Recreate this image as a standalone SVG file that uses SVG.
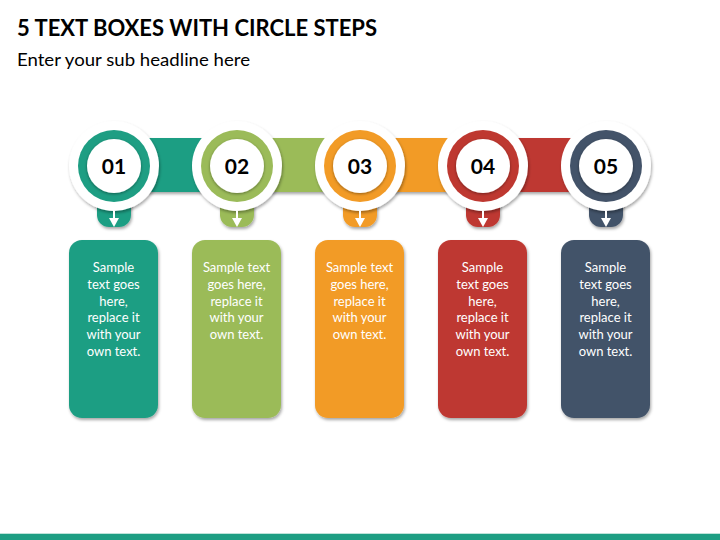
<svg xmlns="http://www.w3.org/2000/svg" width="720" height="540" viewBox="0 0 720 540">
<defs>
<style>
.title{font-family:Lato,"Open Sans","Liberation Sans",sans-serif;font-weight:700;font-size:22px;fill:#000}
.sub{font-family:Lato,"Open Sans","Liberation Sans",sans-serif;font-size:18px;fill:#000}
.num{font-family:Lato,"Open Sans","Liberation Sans",sans-serif;font-weight:700;font-size:21px;fill:#000;text-anchor:middle}
.body{font-family:Lato,"Open Sans","Liberation Sans",sans-serif;font-size:13px;fill:#fff;text-anchor:middle}
.outer{fill:#fff;filter:url(#sh)}
.inner{fill:#fff;filter:url(#ish)}
.box{filter:url(#sh)}
.arrow{fill:#fff;stroke:none}
</style>
<filter id="sh" x="-30%" y="-30%" width="160%" height="160%">
<feDropShadow dx="1" dy="2" stdDeviation="1.6" flood-color="#000" flood-opacity="0.35"/>
</filter>
<filter id="ish" x="-30%" y="-30%" width="160%" height="160%">
<feDropShadow dx="0" dy="1" stdDeviation="1.5" flood-color="#000" flood-opacity="0.4"/>
</filter>
</defs>
<rect width="720" height="540" fill="#fff"/>
<text class="title" x="17" y="36" textLength="360" lengthAdjust="spacingAndGlyphs">5 TEXT BOXES WITH CIRCLE STEPS</text>
<text class="sub" x="17" y="66" textLength="233" lengthAdjust="spacingAndGlyphs">Enter your sub headline here</text>

<g id="connectors">
<rect x="114" y="138" width="125" height="54" fill="#1E9E83" filter="url(#sh)"/>
<rect x="237" y="138" width="125" height="54" fill="#9BBB59" filter="url(#sh)"/>
<rect x="360" y="138" width="125" height="54" fill="#F29B26" filter="url(#sh)"/>
<rect x="483" y="138" width="123" height="54" fill="#BE3830" filter="url(#sh)"/>
</g>

<g id="step1">
<path d="M97 195 H131 V215 A12 12 0 0 1 119 227 H109 A12 12 0 0 1 97 215 Z" fill="#1E9E83" filter="url(#sh)"/>
<circle class="outer" cx="114" cy="166" r="45"/>
<circle cx="114" cy="166" r="36" fill="#1E9E83"/>
<circle class="inner" cx="114" cy="166" r="27"/>
<text class="num" x="114" y="173.5">01</text>
<rect class="arrow" x="113" y="211" width="2" height="9"/>
<polygon class="arrow" points="109,218 119,218 114,227"/>
<rect class="box" x="69" y="240" width="89" height="178" rx="13" fill="#1E9E83"/>
<text class="body" x="113.5" y="272">Sample</text>
<text class="body" x="113.5" y="289">text goes</text>
<text class="body" x="113.5" y="305.5">here,</text>
<text class="body" x="113.5" y="322">replace it</text>
<text class="body" x="113.5" y="339">with your</text>
<text class="body" x="113.5" y="355.5">own text.</text>
</g>

<g id="step2">
<path d="M220 195 H254 V215 A12 12 0 0 1 242 227 H232 A12 12 0 0 1 220 215 Z" fill="#9BBB59" filter="url(#sh)"/>
<circle class="outer" cx="237" cy="166" r="45"/>
<circle cx="237" cy="166" r="36" fill="#9BBB59"/>
<circle class="inner" cx="237" cy="166" r="27"/>
<text class="num" x="237" y="173.5">02</text>
<rect class="arrow" x="236" y="211" width="2" height="9"/>
<polygon class="arrow" points="232,218 242,218 237,227"/>
<rect class="box" x="192" y="240" width="89" height="178" rx="13" fill="#9BBB59"/>
<text class="body" x="236.5" y="272">Sample text</text>
<text class="body" x="236.5" y="289">goes here,</text>
<text class="body" x="236.5" y="305.5">replace it</text>
<text class="body" x="236.5" y="322">with your</text>
<text class="body" x="236.5" y="339">own text.</text>
</g>

<g id="step3">
<path d="M343 195 H377 V215 A12 12 0 0 1 365 227 H355 A12 12 0 0 1 343 215 Z" fill="#F29B26" filter="url(#sh)"/>
<circle class="outer" cx="360" cy="166" r="45"/>
<circle cx="360" cy="166" r="36" fill="#F29B26"/>
<circle class="inner" cx="360" cy="166" r="27"/>
<text class="num" x="360" y="173.5">03</text>
<rect class="arrow" x="359" y="211" width="2" height="9"/>
<polygon class="arrow" points="355,218 365,218 360,227"/>
<rect class="box" x="315" y="240" width="89" height="178" rx="13" fill="#F29B26"/>
<text class="body" x="359.5" y="272">Sample text</text>
<text class="body" x="359.5" y="289">goes here,</text>
<text class="body" x="359.5" y="305.5">replace it</text>
<text class="body" x="359.5" y="322">with your</text>
<text class="body" x="359.5" y="339">own text.</text>
</g>

<g id="step4">
<path d="M466 195 H500 V215 A12 12 0 0 1 488 227 H478 A12 12 0 0 1 466 215 Z" fill="#BE3830" filter="url(#sh)"/>
<circle class="outer" cx="483" cy="166" r="45"/>
<circle cx="483" cy="166" r="36" fill="#BE3830"/>
<circle class="inner" cx="483" cy="166" r="27"/>
<text class="num" x="483" y="173.5">04</text>
<rect class="arrow" x="482" y="211" width="2" height="9"/>
<polygon class="arrow" points="478,218 488,218 483,227"/>
<rect class="box" x="438" y="240" width="89" height="178" rx="13" fill="#BE3830"/>
<text class="body" x="482.5" y="272">Sample</text>
<text class="body" x="482.5" y="289">text goes</text>
<text class="body" x="482.5" y="305.5">here,</text>
<text class="body" x="482.5" y="322">replace it</text>
<text class="body" x="482.5" y="339">with your</text>
<text class="body" x="482.5" y="355.5">own text.</text>
</g>

<g id="step5">
<path d="M589 195 H623 V215 A12 12 0 0 1 611 227 H601 A12 12 0 0 1 589 215 Z" fill="#435369" filter="url(#sh)"/>
<circle class="outer" cx="606" cy="166" r="45"/>
<circle cx="606" cy="166" r="36" fill="#435369"/>
<circle class="inner" cx="606" cy="166" r="27"/>
<text class="num" x="606" y="173.5">05</text>
<rect class="arrow" x="605" y="211" width="2" height="9"/>
<polygon class="arrow" points="601,218 611,218 606,227"/>
<rect class="box" x="561" y="240" width="89" height="178" rx="13" fill="#435369"/>
<text class="body" x="605.5" y="272">Sample</text>
<text class="body" x="605.5" y="289">text goes</text>
<text class="body" x="605.5" y="305.5">here,</text>
<text class="body" x="605.5" y="322">replace it</text>
<text class="body" x="605.5" y="339">with your</text>
<text class="body" x="605.5" y="355.5">own text.</text>
</g>

<rect x="0" y="533" width="720" height="1" fill="#BFE3DA"/>
<rect x="0" y="534" width="720" height="6" fill="#1E9E83"/>
</svg>
